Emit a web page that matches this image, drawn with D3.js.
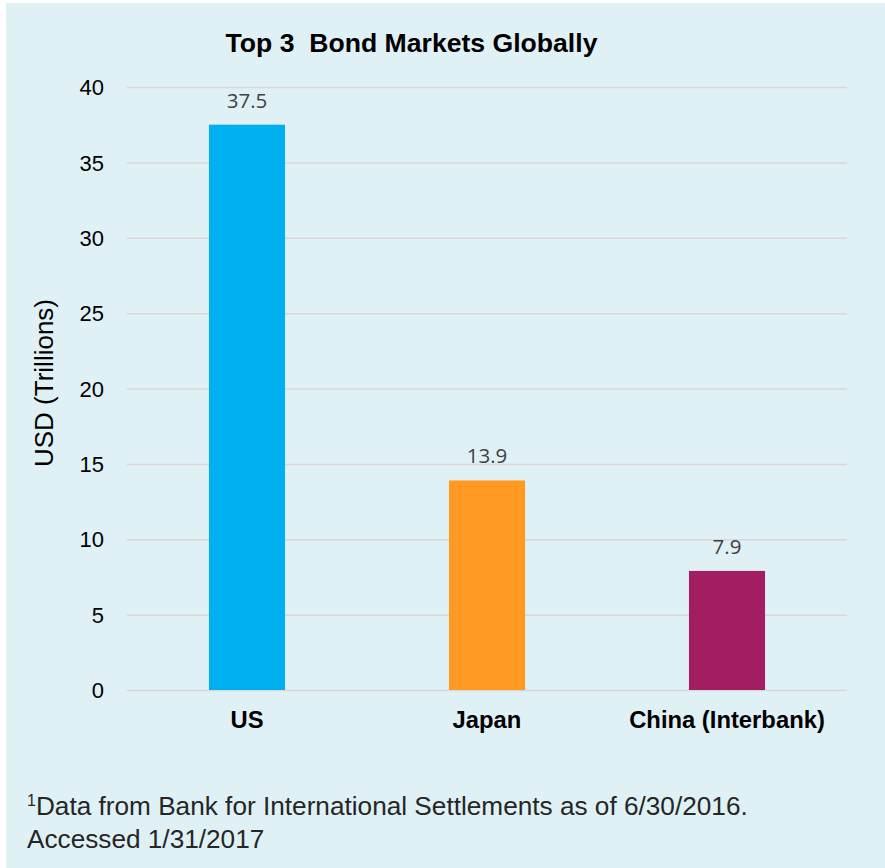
<!DOCTYPE html>
<html><head><meta charset="utf-8">
<script src="https://cdn.jsdelivr.net/npm/d3@7"></script>
<style>
html,body{margin:0;padding:0;background:#fff;}
svg{display:block;}
</style></head>
<body>
<svg id="chart" width="885" height="868"></svg>
<script>
const categories = ["US", "Japan", "China (Interbank)"];
const values = [37.5, 13.9, 7.9];
const barColors = ["#00b0f0", "#ff9922", "#a21d62"];
const yTicks = [0, 5, 10, 15, 20, 25, 30, 35, 40];
const titleText = "Top 3\u00a0 Bond Markets Globally";
const yLabel = "USD (Trillions)";
const footLine1 = "Data from Bank for International Settlements as of 6/30/2016.";
const footLine2 = "Accessed 1/31/2017";

const ARIAL = "'Liberation Sans', Arial, sans-serif";
const svg = d3.select("#chart");
svg.append("rect").attr("x", 6).attr("y", 3).attr("width", 879).attr("height", 865).attr("fill", "#e0f1f6");

const x = d3.scaleBand().domain(categories).range([127, 847]).paddingInner(0.683).paddingOuter(0.3415);
const y = d3.scaleLinear().domain([0, 40]).range([690, 87]);

// gridlines
svg.append("g").selectAll("line").data(yTicks).join("line")
  .attr("x1", 127).attr("x2", 847)
  .attr("y1", d => y(d) + 0.5).attr("y2", d => y(d) + 0.5)
  .attr("stroke", "#d9d5d9").attr("stroke-width", 1.5);

// y axis ticks
const yAxis = d3.axisLeft(y).tickValues(yTicks).tickSize(0).tickPadding(0);
const gy = svg.append("g").attr("transform", "translate(104,0)").call(yAxis);
gy.select(".domain").remove();
gy.selectAll("text").style("font-size", "22px").style("fill", "#000").style("font-family", ARIAL).attr("dy", "0.35em");

// bars
svg.append("g").selectAll("rect").data(values).join("rect")
  .attr("x", (d, i) => x(categories[i]))
  .attr("width", x.bandwidth())
  .attr("y", d => y(d))
  .attr("height", d => y(0) - y(d))
  .attr("fill", (d, i) => barColors[i]);

// value labels
svg.append("g").selectAll("text").data(values).join("text")
  .attr("x", (d, i) => x(categories[i]) + x.bandwidth() / 2)
  .attr("y", d => y(d) - 17)
  .attr("text-anchor", "middle")
  .style("font-size", "20.5px")
  .style("fill", "#404040")
  .style("font-family", "'Open Sans', 'Noto Sans', sans-serif")
  .text(d => d.toFixed(1));

// x axis labels
const xAxis = d3.axisBottom(x).tickSize(0).tickPadding(0);
const gx = svg.append("g").attr("transform", "translate(0,728)").call(xAxis);
gx.select(".domain").remove();
gx.selectAll("text").style("font-size", "23.8px").style("font-weight", "bold").style("fill", "#000")
  .style("font-family", ARIAL).attr("dy", 0);

// title
svg.append("text").attr("x", 411.5).attr("y", 52).attr("text-anchor", "middle")
  .style("font-family", ARIAL).style("font-size", "26.6px").style("font-weight", "bold").style("fill", "#000").text(titleText);

// y label
svg.append("text").attr("transform", "translate(53,383) rotate(-90)").attr("text-anchor", "middle")
  .style("font-family", ARIAL).style("font-size", "26px").style("fill", "#000").text(yLabel);

// footnote
const f1 = svg.append("text").attr("x", 27).attr("y", 815).style("font-family", ARIAL).style("font-size", "26.2px").style("fill", "#262626");
f1.append("tspan").style("font-size", "16px").attr("dy", -9).text("1");
f1.append("tspan").attr("dy", 9).text(footLine1);
svg.append("text").attr("x", 27).attr("y", 848).style("font-family", ARIAL).style("font-size", "26.2px").style("fill", "#262626").text(footLine2);
</script>
</body></html>
